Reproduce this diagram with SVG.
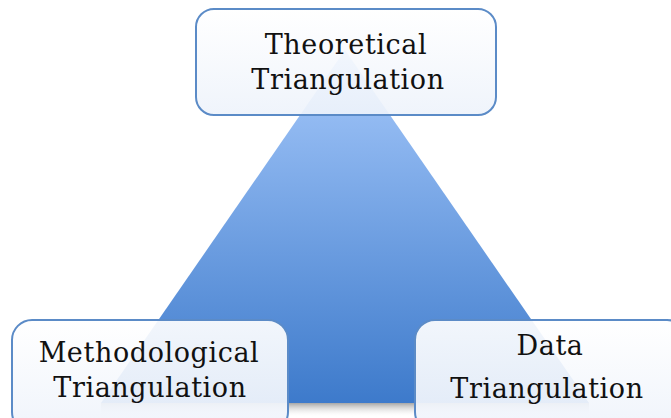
<svg xmlns="http://www.w3.org/2000/svg" width="671" height="418" viewBox="0 0 671 418">
<defs>
<linearGradient id="tri" x1="0" y1="50" x2="0" y2="403" gradientUnits="userSpaceOnUse">
<stop offset="0" stop-color="#a6c9fb"/>
<stop offset="1" stop-color="#3d7acb"/>
</linearGradient>
<linearGradient id="shadow" x1="0" y1="0" x2="0" y2="1">
<stop offset="0" stop-color="#808080" stop-opacity="0.7"/>
<stop offset="1" stop-color="#ffffff" stop-opacity="0"/>
</linearGradient>
<linearGradient id="box" x1="0" y1="0" x2="0" y2="1">
<stop offset="0" stop-color="#ffffff"/>
<stop offset="1" stop-color="#eef3fb"/>
</linearGradient>
<style>
.box{fill:url(#box);fill-opacity:0.92;stroke:#5b8bc7;stroke-width:2}
.lbl{font-family:"DejaVu Serif","Liberation Serif",serif;font-size:27px;letter-spacing:0.6px;fill:#111;text-anchor:middle}
</style>
</defs>
<rect width="671" height="418" fill="#ffffff"/>
<g id="pyramid">
<rect x="101" y="403" width="488" height="14" fill="url(#shadow)"/>
<polygon points="345,50 589,403 101,403" fill="url(#tri)"/>
</g>
<g id="connectors"></g>
<g id="theoretical">
<rect class="box" x="196" y="9" width="300" height="106" rx="18"/>
<text class="lbl" x="346" y="54">Theoretical</text>
<text class="lbl" x="348" y="89">Triangulation</text>
</g>
<g id="methodological">
<rect class="box" x="12" y="320" width="276" height="112" rx="20"/>
<text class="lbl" x="149" y="362">Methodological</text>
<text class="lbl" x="150" y="397">Triangulation</text>
</g>
<g id="data">
<rect class="box" x="415" y="320" width="272" height="112" rx="20"/>
<text class="lbl" x="550" y="355">Data</text>
<text class="lbl" x="547" y="398">Triangulation</text>
</g>
</svg>
